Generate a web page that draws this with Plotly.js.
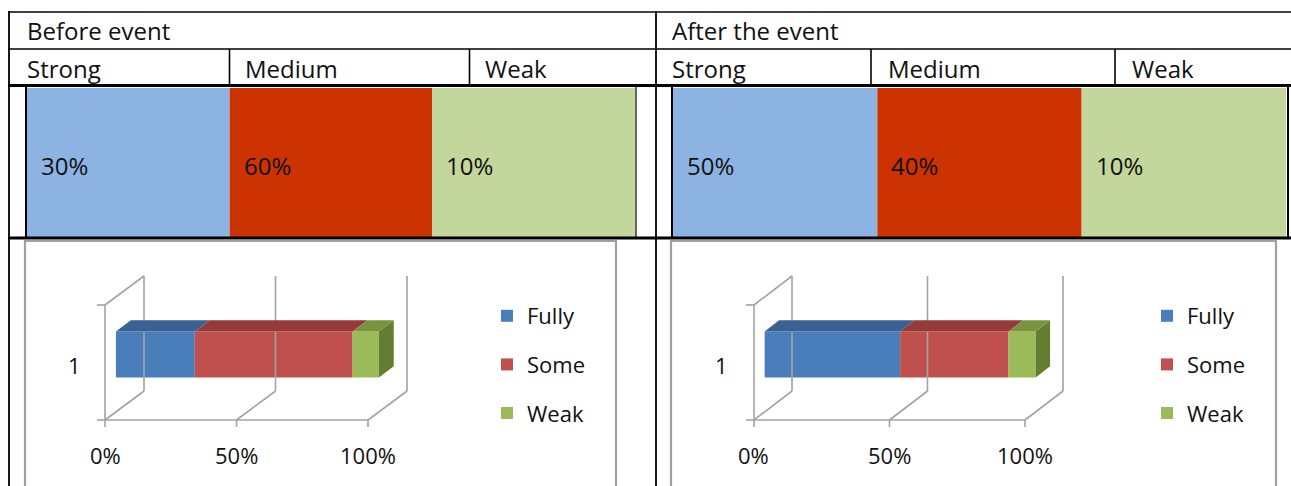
<!DOCTYPE html>
<html><head><meta charset="utf-8">
<script src="https://cdn.plot.ly/plotly-3.0.1.min.js"></script>
<style>html,body{margin:0;padding:0;background:#fff}#chart{width:1291px;height:486px}</style>
</head><body><div id="chart"></div>
<script>
// ---------- data ----------
const panelTitles = ['Before event', 'After the event'];
const strengthCategories = ['Strong', 'Medium', 'Weak'];
const strengthBefore = [30, 60, 10];
const strengthAfter = [50, 40, 10];
const seriesNames = ['Fully', 'Some', 'Weak'];
const chartCategories = ['1'];
const chartBefore = [30, 60, 10];
const chartAfter = [50, 40, 10];
const axisTickValues = [0, 50, 100];
const axisTickLabels = ['0%', '50%', '100%'];

// ---------- styles / layout ----------
const W = 1291, H = 486;
const FONT = '"Open Sans", sans-serif';
const TXT = '#111';
const blockColors = ['#8db3e2', '#cc3300', '#c3d69b'];
const frontColors = ['#4a7ebb', '#c0504d', '#9bbb59'];
const topColors = ['#386294', '#953a38', '#78953e'];
const sideColors = ['#2c4d75', '#772c2a', '#647e31'];
const gridColor = '#a3a3a3';
const px = x => x / W;
const py = y => 1 - y / H;

const panels = [
  { title: panelTitles[0], strength: strengthBefore, series: chartBefore,
    titleX: 25, headerTextX: [25, 243, 483], block: [27, 635], chartBox: [25, 616],
    zeroPx: 105, hundredPx: 368, depthPx: 39, dom: [50, 430], legendLeft: 487, labelShift: -31 },
  { title: panelTitles[1], strength: strengthAfter, series: chartAfter,
    titleX: 670, headerTextX: [670, 886, 1130], block: [673, 1286], chartBox: [671, 1276],
    zeroPx: 754, hundredPx: 1025, depthPx: 38, dom: [700, 1090], legendLeft: 1147, labelShift: -32 }
];
const bandBottomPx = 420, bandTopPx = 305, depthUpPx = 29, domTopPx = 262, domBottomPx = 434;
const fFront = 0.28, fBack = 0.66, barThick = 0.4;

const traces = [];
const annotations = [];
const layout = {
  width: W, height: H, margin: {l: 0, r: 0, t: 0, b: 0},
  paper_bgcolor: '#fff', plot_bgcolor: 'rgba(0,0,0,0)',
  barmode: 'overlay', showlegend: true, hovermode: false,
  font: {family: FONT, color: TXT},
  shapes: [], annotations: annotations
};

panels.forEach((p, i) => {
  // ----- header texts -----
  annotations.push({xref: 'paper', yref: 'paper', x: px(p.titleX), y: py(31), xanchor: 'left', yanchor: 'middle',
    text: p.title, showarrow: false, font: {size: 24, family: FONT, color: TXT}});
  strengthCategories.forEach((c, k) => {
    annotations.push({xref: 'paper', yref: 'paper', x: px(p.headerTextX[k]), y: py(68), xanchor: 'left', yanchor: 'middle',
      text: c, showarrow: false, font: {size: 24, family: FONT, color: TXT}});
  });

  // ----- coloured block row -----
  const bx = i === 0 ? 'x' : 'x2', by = i === 0 ? 'y' : 'y2';
  layout[i === 0 ? 'xaxis' : 'xaxis2'] = {domain: [px(p.block[0]), px(p.block[1])], type: 'category',
    range: [-0.5, strengthCategories.length - 0.5], visible: false, fixedrange: true};
  layout[i === 0 ? 'yaxis' : 'yaxis2'] = {domain: [py(237), py(88)], range: [0, 1], visible: false, fixedrange: true, anchor: bx};
  traces.push({type: 'bar', x: strengthCategories, y: p.strength.map(() => 1), width: 1,
    marker: {color: blockColors, line: {width: 0}}, xaxis: bx, yaxis: by, showlegend: false, hoverinfo: 'skip'});
  p.strength.forEach((v, k) => {
    annotations.push({xref: bx, yref: by, x: k - 0.5, y: 0.5, xanchor: 'left', yanchor: 'middle', xshift: 12, yshift: -3,
      text: v + '%', showarrow: false, font: {size: 24, family: FONT, color: TXT}});
  });

  // ----- pseudo-3D stacked bar chart -----
  const xa = 'x' + (3 + i), ya = 'y' + (3 + i);
  const sx = (p.hundredPx - p.zeroPx) / 100;
  const sy = bandBottomPx - bandTopPx;
  layout['xaxis' + (3 + i)] = {domain: [px(p.dom[0]), px(p.dom[1])],
    range: [(p.dom[0] - p.zeroPx) / sx, (p.dom[1] - p.zeroPx) / sx], visible: false, fixedrange: true, anchor: ya};
  layout['yaxis' + (3 + i)] = {domain: [py(domBottomPx), py(domTopPx)],
    range: [0.5 - (domBottomPx - bandBottomPx) / sy, 1.5 + (bandTopPx - domTopPx) / sy], visible: false, fixedrange: true, anchor: xa};
  const dxU = p.depthPx / sx, dyU = depthUpPx / sy;
  const lo = 0.5, hi = chartCategories.length + 0.5;
  const tMin = axisTickValues[0], tMax = axisTickValues[axisTickValues.length - 1];

  // wall / floor lines
  const lx = [], ly = [];
  const seg = (x0, y0, x1, y1) => { lx.push(x0, x1, null); ly.push(y0, y1, null); };
  seg(tMin, lo, tMin, hi);                         // left wall front edge
  seg(tMin, hi, tMin + dxU, hi + dyU);             // left wall top edge
  seg(tMin, lo, tMax, lo);                         // floor front edge
  seg(tMin, lo, tMin - 8 / sx, lo);                // left ticks
  seg(tMin, hi, tMin - 8 / sx, hi);
  axisTickValues.forEach(t => {
    seg(t, lo, t + dxU, lo + dyU);                 // floor depth line
    seg(t + dxU, lo + dyU, t + dxU, hi + dyU);     // back wall gridline
    seg(t, lo, t, lo - 7 / sy);                    // tick mark
  });
  traces.push({type: 'scatter', mode: 'lines', x: lx, y: ly, xaxis: xa, yaxis: ya,
    line: {color: gridColor, width: 1.6}, showlegend: false, hoverinfo: 'skip'});

  // bars
  const legendId = i === 0 ? 'legend' : 'legend2';
  const ddx = (fBack - fFront) * dxU, ddy = (fBack - fFront) * dyU;
  chartCategories.forEach((cat, ci) => {
    const yc = ci + 1 + fFront * dyU;
    const yTop = yc + barThick / 2, yBot = yc - barThick / 2;
    let cum = 0;
    p.series.forEach((v, k) => {
      const b0 = cum + fFront * dxU, b1 = b0 + v;
      traces.push({type: 'bar', orientation: 'h', name: seriesNames[k], x: [v], y: [yc], base: [b0], width: barThick,
        marker: {color: frontColors[k], line: {width: 0}}, xaxis: xa, yaxis: ya, legend: legendId,
        legendgroup: legendId + k, showlegend: ci === 0, hoverinfo: 'skip'});
      traces.push({type: 'scatter', mode: 'lines', fill: 'toself', fillcolor: topColors[k],
        x: [b0, b1, b1 + ddx, b0 + ddx, b0], y: [yTop, yTop, yTop + ddy, yTop + ddy, yTop],
        line: {width: 0, color: topColors[k]}, xaxis: xa, yaxis: ya, showlegend: false, hoverinfo: 'skip'});
      if (k === p.series.length - 1) {
        traces.push({type: 'scatter', mode: 'lines', fill: 'toself', fillcolor: sideColors[k],
          x: [b1, b1, b1 + ddx, b1 + ddx, b1], y: [yBot, yTop, yTop + ddy, yBot + ddy, yBot],
          line: {width: 0, color: sideColors[k]}, xaxis: xa, yaxis: ya, showlegend: false, hoverinfo: 'skip'});
      }
      cum += v;
    });
    annotations.push({xref: xa, yref: ya, x: tMin, y: ci + 1, xanchor: 'center', yanchor: 'middle', xshift: p.labelShift, yshift: -2,
      text: cat, showarrow: false, font: {size: 22, family: FONT, color: TXT}});
  });
  axisTickValues.forEach((t, k) => {
    annotations.push({xref: xa, yref: ya, x: t, y: lo, xanchor: 'center', yanchor: 'middle', yshift: -35,
      text: axisTickLabels[k], showarrow: false, font: {size: 22, family: FONT, color: TXT}});
  });
  layout[legendId] = {x: px(p.legendLeft), xanchor: 'left', y: py(295), yanchor: 'top',
    bgcolor: 'rgba(0,0,0,0)', borderwidth: 0, font: {size: 22, family: FONT, color: TXT},
    tracegroupgap: 17, traceorder: 'grouped', itemclick: false, itemdoubleclick: false};

  // gray chart frame
  layout.shapes.push({type: 'path', xref: 'paper', yref: 'paper',
    path: `M ${px(p.chartBox[0])} ${py(H + 5)} L ${px(p.chartBox[0])} ${py(241)} L ${px(p.chartBox[1])} ${py(241)} L ${px(p.chartBox[1])} ${py(H + 5)}`,
    line: {color: '#a0a0a0', width: 2.2}});
});

// ---------- table grid lines ----------
const hLine = (y, x0, x1, w) => layout.shapes.push({type: 'line', xref: 'paper', yref: 'paper',
  x0: px(x0), x1: px(x1), y0: py(y), y1: py(y), line: {color: '#000', width: w}});
const vLine = (x, y0, y1, w) => layout.shapes.push({type: 'line', xref: 'paper', yref: 'paper',
  x0: px(x), x1: px(x), y0: py(y0), y1: py(y1), line: {color: '#000', width: w}});
hLine(12, 8, W + 2, 1.6);
hLine(49, 8, W + 2, 1.6);
hLine(85.5, 8, W + 2, 3);
hLine(238, 8, W + 2, 3);
vLine(9, 11, H + 2, 1.8);
vLine(656, 11, H + 2, 1.8);
[229.5, 469.5, 871, 1115].forEach(x => vLine(x, 49, 85, 1.6));
vLine(26, 85, 238, 2);
vLine(636, 85, 238, 1.2);
vLine(672, 85, 238, 2);
vLine(1288, 85, 238, 2);

Plotly.newPlot('chart', traces, layout, {staticPlot: true, displayModeBar: false});
</script>
</body></html>
